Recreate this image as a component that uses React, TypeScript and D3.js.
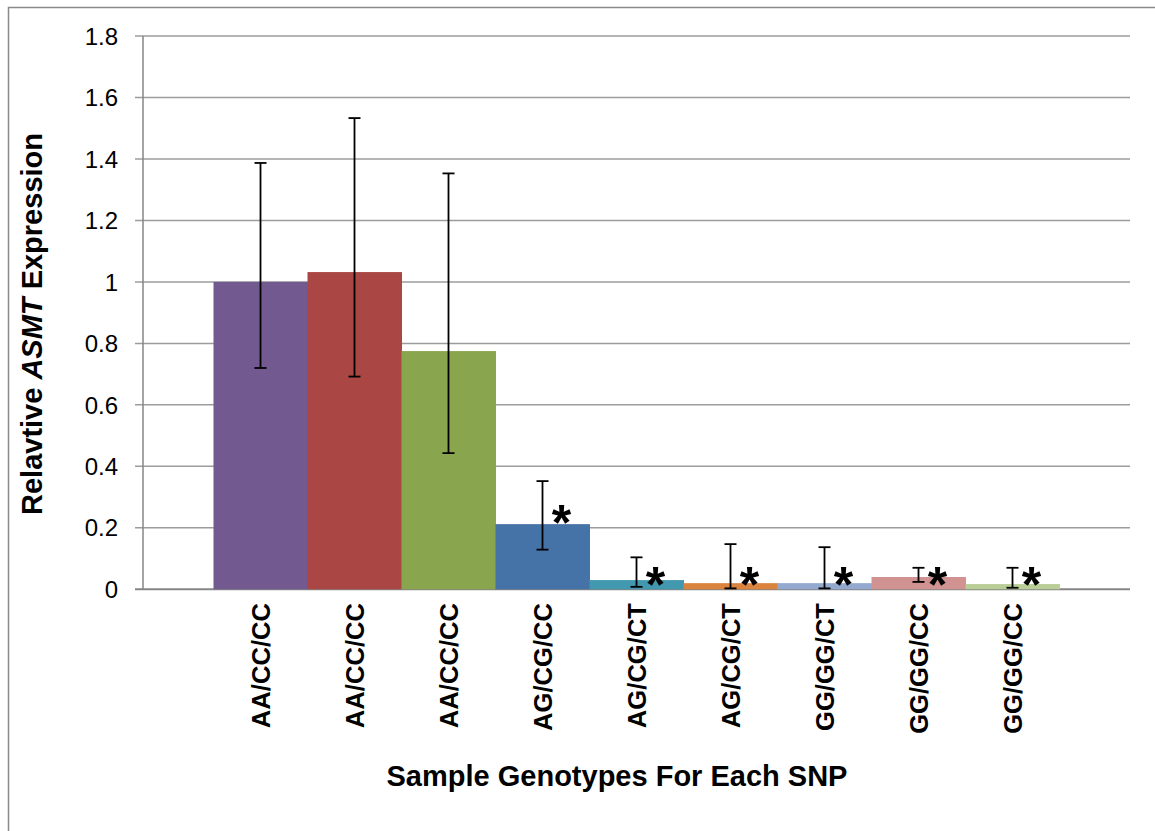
import React from "react";
import * as d3 from "d3";

const categories = ["AA/CC/CC", "AA/CC/CC", "AA/CC/CC", "AG/CG/CC", "AG/CG/CT", "AG/CG/CT", "GG/GG/CT", "GG/GG/CC", "GG/GG/CC"];
const values = [1.0, 1.032, 0.775, 0.212, 0.03, 0.02, 0.02, 0.04, 0.017];
const errUpper = [1.387, 1.533, 1.353, 0.352, 0.104, 0.147, 0.137, 0.07, 0.07];
const errLower = [0.72, 0.692, 0.443, 0.129, 0.008, 0.003, 0.003, 0.024, 0.005];
const significant = [false, false, false, true, true, true, true, true, true];
const colors = ["#725990", "#AA4643", "#89A54E", "#4572A7", "#4198AF", "#DB843D", "#93A9CF", "#D19392", "#B9CD96"];
const yTicks = [0, 0.2, 0.4, 0.6, 0.8, 1, 1.2, 1.4, 1.6, 1.8];

const W = 1155;
const H = 831;
const FONT = "Arial, 'Liberation Sans', Helvetica, sans-serif";

export default function App() {
  const left = 143;
  const right = 1130;
  const top = 36;
  const bottom = 589.3;

  const y = d3.scaleLinear().domain([0, 1.8]).range([bottom, top]);
  const x = d3
    .scaleBand<number>()
    .domain(d3.range(categories.length))
    .range([left, right])
    .paddingInner(0)
    .paddingOuter(0.75);
  const bw = x.bandwidth();
  const capW = 12;

  return (
    <svg
      width={W}
      height={H}
      style={{ position: "absolute", left: 0, top: 0, background: "#fff" }}
      fontFamily={FONT}
    >
      <rect x={0} y={0} width={W} height={H} fill="#fff" />
      <rect x={8.5} y={7.5} width={W + 20} height={H + 20} fill="none" stroke="#8a8a8a" strokeWidth={1.5} />

      {/* grid lines */}
      {yTicks.map((t) => (
        <line
          key={"g" + t}
          x1={left - 8}
          x2={right}
          y1={y(t)}
          y2={y(t)}
          stroke={t === 0 ? "#868686" : "#9c9c9c"}
          strokeWidth={t === 0 ? 2 : 1.5}
        />
      ))}
      {/* y axis */}
      <line x1={left} x2={left} y1={top} y2={bottom} stroke="#868686" strokeWidth={1.5} />

      {/* tick labels */}
      {yTicks.map((t) => (
        <text
          key={"t" + t}
          x={118}
          y={y(t)}
          dy="0.36em"
          textAnchor="end"
          fontSize={24}
          fill="#000"
        >
          {d3.format("~g")(t)}
        </text>
      ))}

      {/* bars */}
      {values.map((v, i) => (
        <rect
          key={"b" + i}
          x={x(i)!}
          y={y(v)}
          width={bw + 0.5}
          height={y(0) - y(v)}
          fill={colors[i]}
        />
      ))}

      {/* error bars */}
      {values.map((v, i) => {
        const cx = x(i)! + bw / 2;
        return (
          <g key={"e" + i} stroke="#000" strokeWidth={1.8}>
            <line x1={cx} x2={cx} y1={y(errUpper[i])} y2={y(errLower[i])} />
            <line x1={cx - capW / 2} x2={cx + capW / 2} y1={y(errUpper[i])} y2={y(errUpper[i])} />
            <line x1={cx - capW / 2} x2={cx + capW / 2} y1={y(errLower[i])} y2={y(errLower[i])} />
          </g>
        );
      })}

      {/* significance asterisks */}
      {values.map((v, i) => {
        if (!significant[i]) return null;
        const cx = x(i)! + bw / 2 + 19;
        const cy = v >= 0.1 ? y(v) - 10 : y(0) - 13;
        return (
          <text
            key={"s" + i}
            x={cx}
            y={cy + 26}
            textAnchor="middle"
            fontSize={50}
            fontWeight="bold"
            fill="#000"
          >
            *
          </text>
        );
      })}

      {/* category labels */}
      {categories.map((c, i) => {
        const cx = x(i)! + bw / 2;
        return (
          <text
            key={"c" + i}
            transform={`translate(${cx},603) rotate(-90)`}
            dy="0.36em"
            textAnchor="end"
            fontSize={25.6}
            fontWeight="bold"
            fill="#000"
          >
            {c}
          </text>
        );
      })}

      {/* axis titles */}
      <text x={617} y={786} textAnchor="middle" fontSize={29} fontWeight="bold" fill="#000">
        Sample Genotypes For Each SNP
      </text>
      <text
        transform="translate(42,324) rotate(-90)"
        textAnchor="middle"
        fontSize={29}
        fontWeight="bold"
        fill="#000"
      >
        Relavtive <tspan fontStyle="italic">ASMT</tspan> Expression
      </text>
    </svg>
  );
}
